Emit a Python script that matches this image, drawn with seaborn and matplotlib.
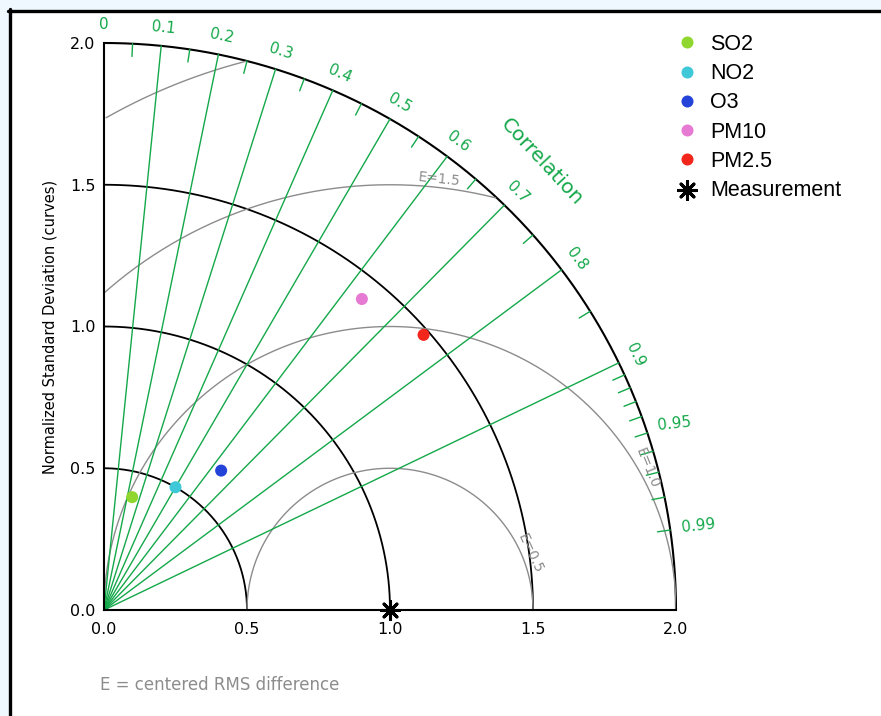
import numpy as np
import pandas as pd
import seaborn as sns
import matplotlib.pyplot as plt
from matplotlib.lines import Line2D
from matplotlib.patches import Rectangle

# values: normalized std dev and correlation per pollutant
names = ["SO2", "NO2", "O3", "PM10", "PM2.5"]
std_dev = [0.41, 0.50, 0.64, 1.42, 1.48]
corr = [0.24, 0.50, 0.64, 0.635, 0.755]
colors = ["#8fd72e", "#3ec8d8", "#2443d8", "#e67ad2", "#f2261a"]
ref_std = 1.0

# diagram furniture
corr_lines = [0.1, 0.2, 0.3, 0.4, 0.5, 0.6, 0.7, 0.8, 0.9]
corr_labels = [0.0, 0.1, 0.2, 0.3, 0.4, 0.5, 0.6, 0.7, 0.8, 0.9, 0.95, 0.99]
corr_minor = [0.05, 0.15, 0.25, 0.35, 0.45, 0.55, 0.65, 0.75, 0.85,
              0.91, 0.92, 0.93, 0.94, 0.95, 0.96, 0.97, 0.98, 0.99]
std_arcs = [0.5, 1.0, 1.5]
std_max = 2.0
rms_curves = [0.5, 1.0, 1.5, 2.0]
rms_labels = ["E=0.5", "E=1.0", "E=1.5"]

green = "#14a84a"
grey = "#8c8c8c"

sns.set_style("white")
plt.rcParams['font.family'] = ['DejaVu Sans']
plt.rcParams['text.color'] = 'black'
plt.rcParams['axes.labelcolor'] = 'black'

fig = plt.figure(figsize=(8.81, 7.16), dpi=100)
ax = fig.add_axes([104/881, 106/716, 572/881, 567/716])

#%% frame of the picture (light band + black line on top and left)
fig.patches.append(Rectangle((0, 1-9/716), 1, 9/716, transform=fig.transFigure,
                             color="#eef8fe", zorder=0))
fig.patches.append(Rectangle((0, 0), 8/881, 1, transform=fig.transFigure,
                             color="#eef8fe", zorder=0))
fig.add_artist(Line2D([8/881, 1], [1-10.5/716, 1-10.5/716], color="black", lw=2.4,
                      transform=fig.transFigure))
fig.add_artist(Line2D([9.5/881, 9.5/881], [0, 1-9/716], color="black", lw=2.4,
                      transform=fig.transFigure))

#%% std dev arcs
th = np.linspace(0, np.pi/2, 300)
for r in std_arcs:
    ax.plot(r*np.cos(th), r*np.sin(th), color="black", lw=1.3)
ax.plot(std_max*np.cos(th), std_max*np.sin(th), color="black", lw=1.5, clip_on=False)

#%% centered RMS difference circles around the reference point
ph = np.linspace(0, np.pi, 500)
for e in rms_curves:
    cx = ref_std + e*np.cos(ph)
    cy = e*np.sin(ph)
    keep = (cx >= 0) & (cx**2 + cy**2 <= std_max**2 + 1e-9)
    ax.plot(np.where(keep, cx, np.nan), np.where(keep, cy, np.nan), color=grey, lw=1)

# E labels along the circles
ax.text(1.49, 0.20, rms_labels[0], color=grey, fontsize=10, rotation=-65,
        ha="center", va="center")
ax.text(1.90, 0.50, rms_labels[1], color=grey, fontsize=10, rotation=-68,
        ha="center", va="center")
ax.text(1.17, 1.52, rms_labels[2], color=grey, fontsize=10, rotation=-6,
        ha="center", va="center")

#%% correlation rays, ticks and labels
for c in corr_lines:
    a = np.arccos(c)
    ax.plot([0, std_max*np.cos(a)], [0, std_max*np.sin(a)], color=green, lw=1)
for c in corr_minor:
    a = np.arccos(c)
    ax.plot([1.955*np.cos(a), std_max*np.cos(a)], [1.955*np.sin(a), std_max*np.sin(a)],
            color=green, lw=1)
for c in corr_labels:
    a = np.arccos(c)
    if c < 0.93:
        rr, rot = 2.065, np.degrees(a) - 90
    else:
        rr, rot = 2.10, 6
    ax.text(rr*np.cos(a), rr*np.sin(a), f"{c:g}" if c > 0 else "0", color=green,
            fontsize=11, rotation=rot, ha="center", va="center")
ax.text(1.53, 1.58, "Correlation", color=green, fontsize=14.5, rotation=-47,
        ha="center", va="center")

#%% the model points
df = pd.DataFrame({"name": names, "std": std_dev, "corr": corr})
df["x"] = df["std"]*df["corr"]
df["y"] = df["std"]*np.sin(np.arccos(df["corr"]))
sns.scatterplot(data=df, x="x", y="y", hue="name", palette=colors, s=75,
                edgecolor="none", ax=ax, zorder=6)
ax.scatter([ref_std], [0], marker=(8, 2, 0), s=170, color="black", lw=2.2,
           label="Measurement", clip_on=False, zorder=7)

handles, labels = ax.get_legend_handles_labels()
ax.legend(handles, labels, loc="upper left", bbox_to_anchor=(676/881, 1-34/716),
          bbox_transform=fig.transFigure, frameon=False, labelcolor="black",
          handlelength=1.0, handletextpad=0.6, labelspacing=0.38,
          borderpad=0, borderaxespad=0, prop={"family": "Liberation Sans", "size": 15.5})

#%% axes
ax.set_xlim(0, std_max)
ax.set_ylim(0, std_max)
ax.set_xticks([0, 0.5, 1.0, 1.5, 2.0])
ax.set_yticks([0, 0.5, 1.0, 1.5, 2.0])
ax.set_xticks(np.arange(0, 2.01, 0.1), minor=True)
ax.set_yticks(np.arange(0, 2.01, 0.1), minor=True)
ax.xaxis.set_major_formatter(plt.FormatStrFormatter("%.1f"))
ax.yaxis.set_major_formatter(plt.FormatStrFormatter("%.1f"))
ax.tick_params(which="both", direction="in", length=7, width=1, labelsize=11.5,
               colors="black", pad=6)
ax.tick_params(axis="x", pad=9)
for s in ["top", "right"]:
    ax.spines[s].set_visible(False)
for s in ["left", "bottom"]:
    ax.spines[s].set_color("black")
    ax.spines[s].set_linewidth(1.5)
ax.set_xlabel("")
ax.set_ylabel("Normalized Standard Deviation (curves)", fontsize=10.5, color="black")
ax.yaxis.set_label_coords(-0.082, 0.5)
ax.set_facecolor("none")

fig.text(100/881, 1-685/716, "E = centered RMS difference", color=grey, fontsize=12,
         ha="left", va="center")

fig.savefig("out.png", dpi=100)
